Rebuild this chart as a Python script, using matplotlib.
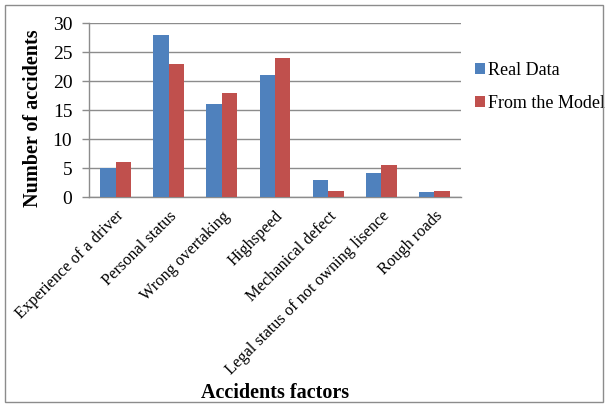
import matplotlib
matplotlib.use("Agg")
import matplotlib.pyplot as plt
import numpy as np
from matplotlib.patches import Rectangle

categories = ["Experience of a driver", "Personal status", "Wrong overtaking",
              "Highspeed", "Mechanical defect",
              "Legal status of not owning lisence", "Rough roads"]
real_data = [5, 28, 16, 21, 3, 4.1, 0.8]
model_data = [6, 23, 18, 24, 1, 5.5, 1]
y_ticks = [0, 5, 10, 15, 20, 25, 30]

plt.rcParams["font.family"] = ["Liberation Serif", "DejaVu Serif"]

fig = plt.figure(figsize=(6.05, 4.07), dpi=100)
ax = fig.add_axes([89/605, 1 - 197/407, (461 - 89)/605, (197 - 23)/407])

x = np.arange(len(categories))
w = 0.29
ax.bar(x - w/2, real_data, w, color="#4F81BD", label="Real Data", zorder=3)
ax.bar(x + w/2, model_data, w, color="#C0504D", label="From the Model", zorder=3)

ax.set_xlim(-0.5, len(categories) - 0.5)
ax.set_ylim(0, 30)
ax.set_yticks(y_ticks)
ax.yaxis.grid(True, color="#8c8c8c", linewidth=1.0, zorder=0)
ax.set_axisbelow(True)

for s in ["top", "right"]:
    ax.spines[s].set_visible(False)
for s in ["left", "bottom"]:
    ax.spines[s].set_color("#8c8c8c")
    ax.spines[s].set_linewidth(1.0)

ax.tick_params(axis="y", length=5, width=1.0, color="#8c8c8c", pad=7,
               labelsize=14)
ax.tick_params(axis="x", length=0, pad=8, labelsize=11.8)
ax.set_xticks(x)
ax.set_xticklabels(categories, rotation=45, ha="right", rotation_mode="anchor")

fig.text(33/605, 1 - 118/407, "Number of accidents", fontsize=14.5,
         fontweight="bold", rotation=90, ha="center", va="center")
fig.text(275/605, 1 - 393/407, "Accidents factors", fontsize=14.5,
         fontweight="bold", ha="center", va="center")

leg = ax.legend(loc="upper left", bbox_to_anchor=(468/605, 1 - 55/407),
                bbox_transform=fig.transFigure, frameon=False, fontsize=13,
                handlelength=0.55, handleheight=0.55, handletextpad=0.15,
                labelspacing=0.85, borderaxespad=0)

fig.patches.append(Rectangle((5/605, 5/407), 598/605, 397/407, fill=False,
                             edgecolor="#8c8c8c", linewidth=1.0,
                             transform=fig.transFigure))

fig.savefig("out.png", dpi=100)
